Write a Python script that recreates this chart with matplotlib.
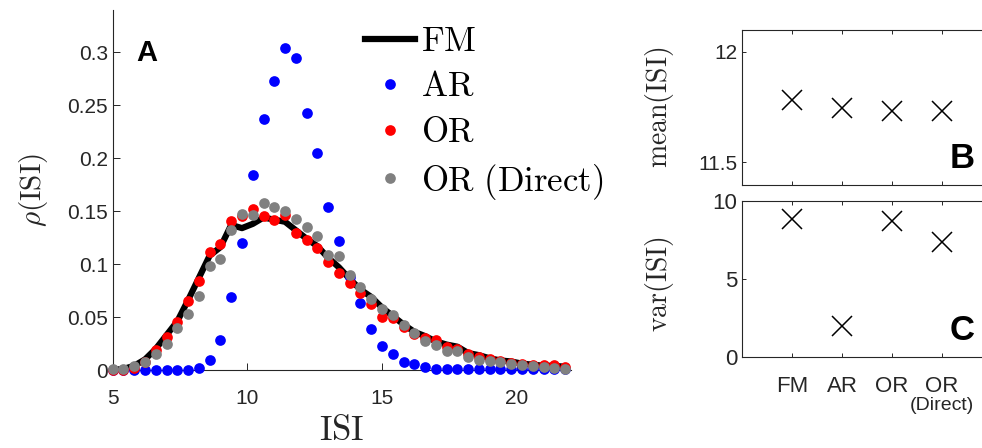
import numpy as np
import matplotlib
matplotlib.use("Agg")
import matplotlib.pyplot as plt

plt.rcParams["mathtext.fontset"] = "cm"
plt.rcParams["font.family"] = ["Liberation Sans", "DejaVu Sans"]

# ISI histogram bins (bin centres) and densities
isi_bins = [5.0 + 0.4 * k for k in range(43)]

rho_fm = [0.000, 0.001, 0.004, 0.010, 0.020, 0.033, 0.046, 0.066, 0.087, 0.108,
          0.116, 0.137, 0.134, 0.138, 0.144, 0.142, 0.140, 0.132, 0.124, 0.117,
          0.106, 0.097, 0.086, 0.076, 0.069, 0.059, 0.051, 0.043, 0.036, 0.032,
          0.027, 0.024, 0.022, 0.016, 0.014, 0.011, 0.009, 0.008, 0.006, 0.005,
          0.004, 0.004, 0.003]

rho_ar = [0.000, 0.000, 0.000, 0.000, 0.000, 0.000, 0.000, 0.000, 0.002, 0.0095,
          0.028, 0.069, 0.120, 0.184, 0.237, 0.273, 0.304, 0.295, 0.243, 0.205,
          0.154, 0.122, 0.088, 0.063, 0.0385, 0.0227, 0.0151, 0.0079, 0.0057, 0.003,
          0.0013, 0.001, 0.001, 0.001, 0.001, 0.001, 0.001, 0.001, 0.001, 0.001,
          0.001, 0.001, 0.001]

rho_or = [0.000, 0.000, 0.002, 0.008, 0.019, 0.031, 0.045, 0.065, 0.084, 0.111,
          0.119, 0.141, 0.145, 0.152, 0.145, 0.142, 0.146, 0.129, 0.123, 0.115,
          0.102, 0.092, 0.0825, 0.0724, 0.062, 0.0503, 0.0487, 0.041, 0.0336, 0.0305,
          0.028, 0.022, 0.0194, 0.0147, 0.0125, 0.010, 0.0083, 0.0068, 0.0059, 0.0049,
          0.0043, 0.0043, 0.003]

rho_or_direct = [0.0006, 0.0006, 0.004, 0.008, 0.015, 0.025, 0.040, 0.053, 0.070, 0.098,
                 0.105, 0.132, 0.147, 0.146, 0.158, 0.154, 0.150, 0.143, 0.135, 0.127,
                 0.109, 0.108, 0.090, 0.0787, 0.0667, 0.0573, 0.0516, 0.0421, 0.0345, 0.0273,
                 0.0232, 0.0178, 0.0178, 0.0125, 0.0093, 0.0083, 0.0074, 0.0059, 0.0045, 0.0036,
                 0.003, 0.0022, 0.0013]

# summary statistics per model
models = ["FM", "AR", "OR", "OR"]
isi_mean = [11.78, 11.745, 11.73, 11.73]
isi_var = [8.83, 2.0, 8.72, 7.38]

AXIS_COLOR = "#262626"
W, H = 982, 448

fig = plt.figure(figsize=(W / 100, H / 100), dpi=100)


def px_axes(left, top, right, bottom):
    return fig.add_axes([left / W, 1 - bottom / H, (right - left) / W, (bottom - top) / H])


def style_axes(ax, box, size=15, length=4):
    for side in ["left", "bottom", "top", "right"]:
        ax.spines[side].set_color(AXIS_COLOR)
        ax.spines[side].set_linewidth(0.8)
        ax.spines[side].set_visible(box or side in ("left", "bottom"))
    ax.tick_params(direction="in", length=length, width=0.7, color=AXIS_COLOR,
                   labelcolor=AXIS_COLOR, labelsize=size, top=box, right=box)


# panel A: ISI distributions
ax = px_axes(112.7, 10, 570.5, 370)
ax.plot(isi_bins, rho_fm, color="black", lw=4.5, label=r"$\mathrm{FM}$", zorder=2)
dot = dict(ms=7.7, mew=0, clip_on=False)
ax.plot(isi_bins, rho_ar, "o", color="#0000ff", label=r"$\mathrm{AR}$", zorder=3, **dot)
ax.plot(isi_bins, rho_or, "o", color="#ff0000", label=r"$\mathrm{OR}$", zorder=4, **dot)
ax.plot(isi_bins, rho_or_direct, "o", color="#808080",
        label=r"$\mathrm{OR\ (Direct)}$", zorder=5, **dot)
ax.set_xlim(5, 22)
ax.set_ylim(0, 0.34)
ax.set_xticks([5, 10, 15, 20])
ax.set_yticks([0, 0.05, 0.1, 0.15, 0.2, 0.25, 0.3])
ax.set_yticklabels(["0", "0.05", "0.1", "0.15", "0.2", "0.25", "0.3"])
style_axes(ax, box=False, size=15, length=5)
ax.tick_params(axis="x", pad=14)
ax.set_xlabel(r"$\mathrm{ISI}$", fontsize=25, color=AXIS_COLOR, labelpad=4)
ax.set_ylabel(r"$\rho(\mathrm{ISI})$", fontsize=21, color=AXIS_COLOR, labelpad=12)
ax.text(0.074, 0.88, "A", transform=ax.transAxes, fontsize=21, fontweight="bold",
        ha="center", va="center")
leg = ax.legend(loc="upper left", bbox_to_anchor=(365 / W, 1 - 25 / H),
                bbox_transform=fig.transFigure, frameon=False,
                fontsize=25, handlelength=1.45, handletextpad=0.17, labelspacing=0.36,
                borderaxespad=0, borderpad=0, markerscale=1.0)

# panel B: mean ISI
axb = px_axes(742, 29.5, 992, 184.5)
axb.plot(range(1, 5), isi_mean, "x", color="black", ms=14, mew=1.1)
axb.set_xlim(0, 5)
axb.set_ylim(11.4, 12.1)
axb.set_xticks(range(1, 5))
axb.set_xticklabels([])
axb.set_yticks([11.5, 12])
axb.set_yticklabels(["11.5", "12"])
style_axes(axb, box=True, size=15, length=3)
axb.set_ylabel(r"$\mathrm{mean}(\mathrm{ISI})$", fontsize=20, color=AXIS_COLOR)
axb.yaxis.set_label_coords(-0.262, 0.5)
axb.text(0.88, 0.17, "B", transform=axb.transAxes, fontsize=25, fontweight="bold",
         ha="center", va="center")

# panel C: ISI variance
axc = px_axes(742, 201, 992, 357)
axc.plot(range(1, 5), isi_var, "x", color="black", ms=14, mew=1.1)
axc.set_xlim(0, 5)
axc.set_ylim(0, 10)
axc.set_xticks(range(1, 5))
axc.set_xticklabels(models)
axc.set_yticks([0, 5, 10])
style_axes(axc, box=True, size=16, length=3)
axc.tick_params(axis="x", pad=14)
axc.text(4, -0.31, "(Direct)", transform=axc.get_xaxis_transform(), fontsize=14,
         color=AXIS_COLOR, ha="center", va="center")
axc.set_ylabel(r"$\mathrm{var}(\mathrm{ISI})$", fontsize=20, color=AXIS_COLOR)
axc.yaxis.set_label_coords(-0.262, 0.47)
axc.text(0.88, 0.17, "C", transform=axc.transAxes, fontsize=25, fontweight="bold",
         ha="center", va="center")

fig.savefig("out.png", dpi=100)
